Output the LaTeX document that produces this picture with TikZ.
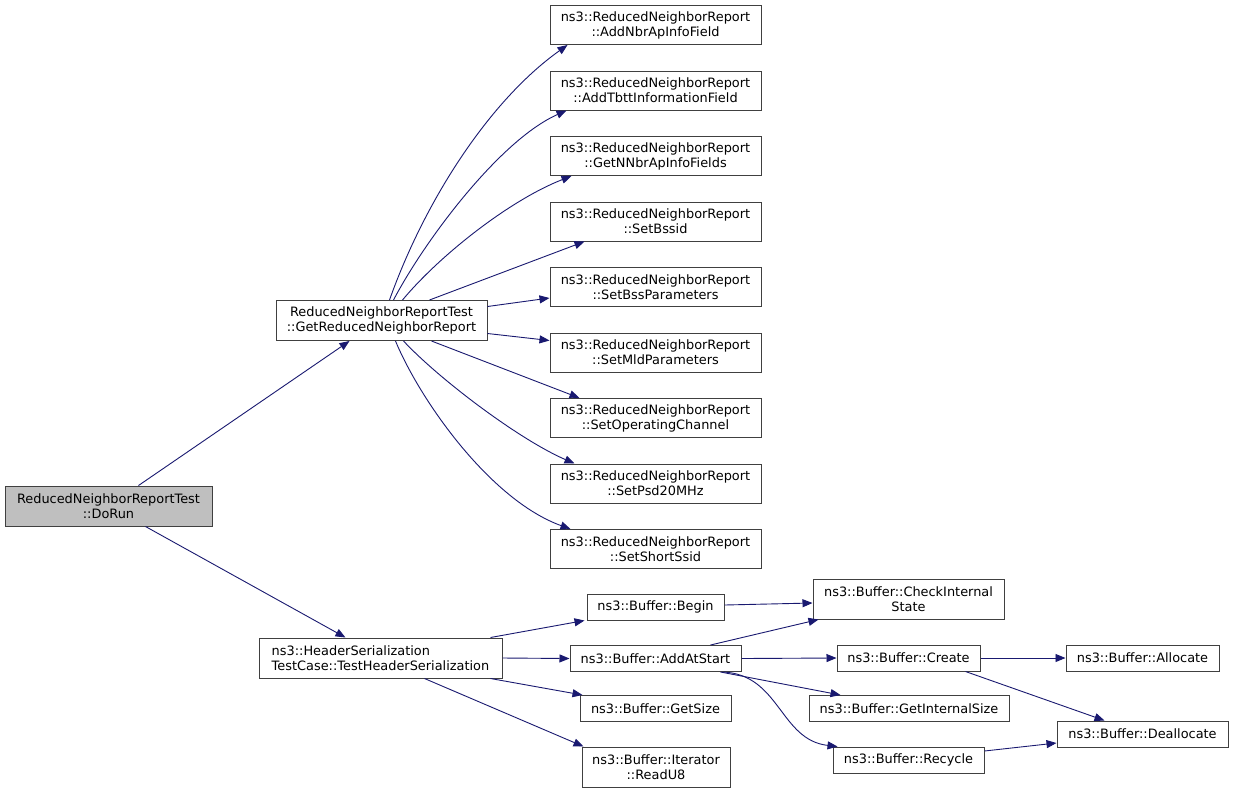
\documentclass[tikz,border=0pt]{standalone}
\usepackage{fontspec}
\setmainfont{DejaVu Sans}
\usetikzlibrary{arrows.meta}
\definecolor{edgeblue}{HTML}{191970}
\definecolor{rootgrey}{HTML}{BFBFBF}
\tikzset{
  fn/.style={draw=black!75, line width=1pt, fill=white, inner sep=0pt, align=center,
    font=\fontsize{12.9}{15}\selectfont},
  root/.style={fn, fill=rootgrey},
  call/.style={draw=edgeblue, line width=0.9pt, -{Triangle[length=10pt,width=8pt]}},
}
\begin{document}
\begin{tikzpicture}[x=1pt,y=-1pt]
\fill[white] (0,0) rectangle (1233,793);
\useasboundingbox (0,0) rectangle (1233,793);

% left
\node[root, minimum width=207, minimum height=40] (dorun) at (108.5,506) {ReducedNeighborReportTest\\::DoRun};
\node[fn, minimum width=211, minimum height=40] (grnr) at (381.5,320.5) {ReducedNeighborReportTest\\::GetReducedNeighborReport};
\node[fn, minimum width=243, minimum height=40, align=left] (ths) at (380.5,658) {ns3::HeaderSerialization\\TestCase::TestHeaderSerialization};

% right column
\node[fn, minimum width=211, minimum height=39] (addnbr) at (655.5,25) {ns3::ReducedNeighborReport\\::AddNbrApInfoField};
\node[fn, minimum width=211, minimum height=39] (addtbtt) at (655.5,90.5) {ns3::ReducedNeighborReport\\::AddTbttInformationField};
\node[fn, minimum width=211, minimum height=39] (getnnbr) at (655.5,156) {ns3::ReducedNeighborReport\\::GetNNbrApInfoFields};
\node[fn, minimum width=211, minimum height=39] (setbssid) at (655.5,221.5) {ns3::ReducedNeighborReport\\::SetBssid};
\node[fn, minimum width=211, minimum height=39] (setbssp) at (655.5,287) {ns3::ReducedNeighborReport\\::SetBssParameters};
\node[fn, minimum width=211, minimum height=39] (setmld) at (655.5,352.5) {ns3::ReducedNeighborReport\\::SetMldParameters};
\node[fn, minimum width=211, minimum height=39] (setopch) at (655.5,418) {ns3::ReducedNeighborReport\\::SetOperatingChannel};
\node[fn, minimum width=211, minimum height=39] (setpsd) at (655.5,483.5) {ns3::ReducedNeighborReport\\::SetPsd20MHz};
\node[fn, minimum width=211, minimum height=39] (setssid) at (655.5,549) {ns3::ReducedNeighborReport\\::SetShortSsid};

% buffer
\node[fn, minimum width=137, minimum height=26] (begin) at (655.5,607) {ns3::Buffer::Begin};
\node[fn, minimum width=171, minimum height=26] (addat) at (655.5,658.5) {ns3::Buffer::AddAtStart};
\node[fn, minimum width=151, minimum height=26] (getsize) at (655.5,708.5) {ns3::Buffer::GetSize};
\node[fn, minimum width=148, minimum height=40] (readu8) at (656,767) {ns3::Buffer::Iterator\\::ReadU8};
\node[fn, minimum width=191, minimum height=40] (check) at (908.5,599) {ns3::Buffer::CheckInternal\\State};
\node[fn, minimum width=143, minimum height=26] (create) at (908.5,658) {ns3::Buffer::Create};
\node[fn, minimum width=200, minimum height=26] (getint) at (909,708.5) {ns3::Buffer::GetInternalSize};
\node[fn, minimum width=151, minimum height=26] (recycle) at (908.5,760) {ns3::Buffer::Recycle};
\node[fn, minimum width=153, minimum height=26] (alloc) at (1142.5,658) {ns3::Buffer::Allocate};
\node[fn, minimum width=171, minimum height=26] (dealloc) at (1142.5,734) {ns3::Buffer::Deallocate};

% edges from DoRun
\draw[call] ([xshift=30]dorun.north) -- ([xshift=-32]grnr.south);
\draw[call] ([xshift=37]dorun.south) -- ([xshift=-35]ths.north);

% edges from GetReducedNeighborReport
\draw[call] ([xshift=8]grnr.north) .. controls (425,200) and (490,100) .. ([xshift=18]addnbr.south west);
\draw[call] ([xshift=12]grnr.north) .. controls (425,240) and (500,140) .. ([xshift=17]addtbtt.south west);
\draw[call] ([xshift=21]grnr.north) .. controls (440,255) and (510,200) .. ([xshift=22]getnnbr.south west);
\draw[call] ([xshift=48]grnr.north) -- ([xshift=35]setbssid.south west);
\draw[call] ([yshift=14]grnr.east) -- ([yshift=-11]setbssp.west);
\draw[call] ([yshift=-13]grnr.east) -- ([yshift=12]setmld.west);
\draw[call] ([xshift=50]grnr.south) -- ([xshift=30]setopch.north west);
\draw[call] ([xshift=22]grnr.south) .. controls (440,380) and (520,440) .. ([xshift=25]setpsd.north west);
\draw[call] ([xshift=14]grnr.south) .. controls (420,400) and (490,500) .. ([xshift=21]setssid.north west);

% edges from TestHeaderSerialization
\draw[call] ([xshift=-12]ths.north east) -- ([xshift=-2]begin.south west);
\draw[call] (ths.east) -- (addat.west);
\draw[call] ([xshift=-12]ths.south east) -- ([xshift=3]getsize.north west);
\draw[call] ([xshift=44]ths.south) -- ([xshift=2]readu8.north west);

% buffer edges
\draw[call] ([yshift=2]begin.east) -- ([yshift=-4]check.west);
\draw[call] ([xshift=-31]addat.north east) -- ([xshift=6]check.south west);
\draw[call] (addat.east) -- (create.west);
\draw[call] ([xshift=-21]addat.south east) -- ([xshift=32]getint.north west);
\draw[call] ([xshift=-18]addat.south east) .. controls (780,675) and (780,740) .. ([xshift=5]recycle.north west);
\draw[call] (create.east) -- (alloc.west);
\draw[call] ([xshift=-15]create.south east) -- ([xshift=48]dealloc.north west);
\draw[call] ([yshift=9]recycle.east) -- ([yshift=-9]dealloc.west);
\end{tikzpicture}
\end{document}
